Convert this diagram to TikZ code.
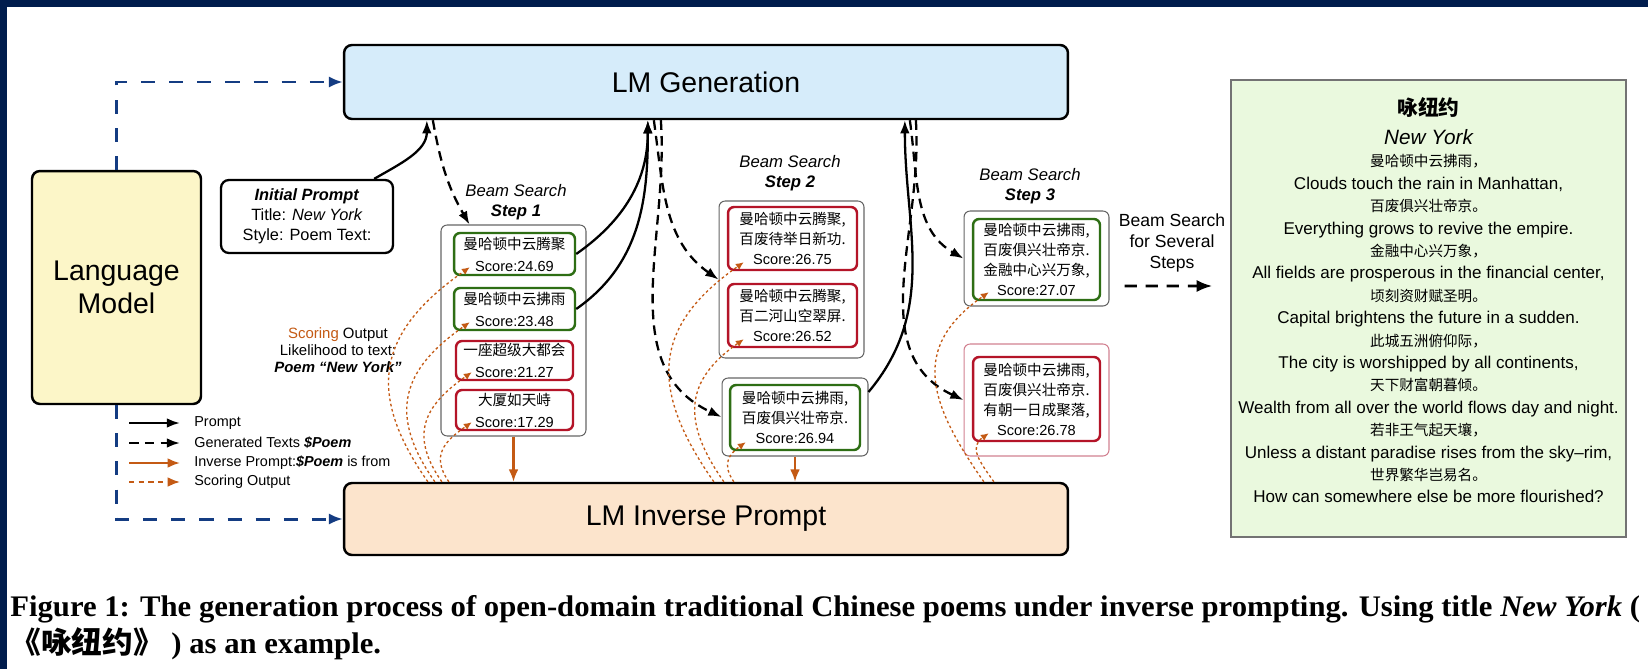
\documentclass[tikz,border=0pt]{standalone}
\usepackage{graphicx}
\usepackage{fontspec}
\setmainfont{Liberation Sans}
\newfontfamily\cjk{Noto Sans CJK SC}
\newfontfamily\capfont{Liberation Serif}
\usetikzlibrary{arrows.meta,calc}

\definecolor{navy}{RGB}{0,28,77}
\definecolor{genblue}{RGB}{214,236,250}
\definecolor{lmyellow}{RGB}{252,246,200}
\definecolor{invpeach}{RGB}{252,228,204}
\definecolor{poemgreen}{RGB}{234,249,222}
\definecolor{goodgreen}{RGB}{46,110,20}
\definecolor{badred}{RGB}{180,20,40}
\definecolor{rust}{RGB}{196,90,20}
\definecolor{dashblue}{RGB}{20,60,130}
\definecolor{pinkedge}{RGB}{210,130,145}

\newcommand\zh[1]{{\cjk #1}}

\begin{document}
\begin{tikzpicture}[x=0.02cm,y=0.02cm,
    boxsize/.style 2 args={minimum width=#1cm,minimum height=#2cm},
    bigbox/.style={draw=black,line width=1.4pt,rounded corners=4.5pt,inner sep=0pt,align=center,font=\fontsize{16.2}{18.8}\selectfont},
    initbox/.style={bigbox,fill=white,line width=1.3pt,font=\fontsize{9.3}{11.4}\selectfont},
    beambox/.style={draw=black!60,line width=0.6pt,rounded corners=3.5pt,inner sep=0pt},
    good/.style={draw=goodgreen,line width=1.4pt,rounded corners=3.5pt,inner sep=0pt,align=center,font=\fontsize{8.3}{11.4}\selectfont},
    bad/.style={good,draw=badred},
    steponetext/.style={font=\fontsize{8.3}{12.5}\selectfont},
    steplabel/.style={align=center,inner sep=0pt,font=\fontsize{9.5}{11.4}\selectfont},
    prompt/.style={-{Latex[length=7.5pt,width=5.5pt]},line width=1.3pt},
    gentext/.style={prompt,dash pattern=on 5.5pt off 3.5pt},
    inverse/.style={-{Latex[length=7pt,width=5.5pt]},rust,line width=1.2pt},
    scoring/.style={-{Latex[length=4.5pt,width=4pt]},rust,line width=0.75pt,dash pattern=on 1.5pt off 1.5pt},
    lmline/.style={-{Latex[length=8pt,width=6.5pt]},dashblue,line width=1.7pt,dash pattern=on 8pt off 8pt},
    legendtext/.style={anchor=west,inner sep=0pt,font=\fontsize{8.2}{10}\selectfont},
    poemtext/.style={align=center,inner sep=0pt,font=\fontsize{9.7}{12.75}\selectfont},
  ]
\useasboundingbox (0,0) rectangle (1648,-669);
\fill[white] (0,0) rectangle (1648,-669);
\fill[navy] (0,0) rectangle (1648,-7);
\fill[navy] (0,0) rectangle (7,-669);

% main blocks
\node[bigbox,fill=genblue,boxsize={14.48}{1.48}] (gen) at (706,-82) {LM Generation};
\node[bigbox,fill=invpeach,boxsize={14.48}{1.44}] (inv) at (706,-519) {LM Inverse Prompt};
\node[bigbox,fill=lmyellow,boxsize={3.38}{4.66}] (lm) at (116.5,-287.5) {Language\\Model};
\node[initbox,boxsize={3.44}{1.46}] (init) at (307,-216.5) {\textbf{\textit{Initial Prompt}}\\Title: \textit{New York}\\Style: Poem Text:};

% beam search step 1
\node[steplabel] (lab1) at (516,-202) {\textit{Beam Search}\\\textbf{\textit{Step 1}}};
\node[beambox,boxsize={2.9}{4.22}] (beam1) at (513.5,-330.5) {};
\node[good,steponetext,boxsize={2.42}{0.84}] (s1a) at (514.5,-254) {\zh{曼哈顿中云腾聚}\\Score:24.69};
\node[good,steponetext,boxsize={2.42}{0.84}] (s1b) at (514.5,-309) {\zh{曼哈顿中云拂雨}\\Score:23.48};
\node[bad,steponetext,boxsize={2.34}{0.78}] (s1c) at (514.5,-360.5) {\zh{一座超级大都会}\\Score:21.27};
\node[bad,steponetext,boxsize={2.34}{0.8}] (s1d) at (514.5,-410) {\zh{大厦如天峙}\\Score:17.29};

% beam search step 2
\node[steplabel] (lab2) at (790,-173) {\textit{Beam Search}\\\textbf{\textit{Step 2}}};
\node[beambox,boxsize={2.9}{3.14}] (beam2a) at (791.5,-279.5) {};
\node[bad,boxsize={2.58}{1.26}] (s2a) at (792.5,-238.5) {\zh{曼哈顿中云腾聚,}\\\zh{百废待举日新功.}\\Score:26.75};
\node[bad,boxsize={2.58}{1.26}] (s2b) at (792.5,-315.5) {\zh{曼哈顿中云腾聚,}\\\zh{百二河山空翠屏.}\\Score:26.52};
\node[beambox,boxsize={2.92}{1.56}] (beam2b) at (795,-417) {};
\node[good,boxsize={2.6}{1.3}] (s2c) at (795,-417.5) {\zh{曼哈顿中云拂雨,}\\\zh{百废俱兴壮帝京.}\\Score:26.94};

% beam search step 3
\node[steplabel] (lab3) at (1030,-186) {\textit{Beam Search}\\\textbf{\textit{Step 3}}};
\node[beambox,boxsize={2.9}{1.9}] (beam3a) at (1036.5,-258.5) {};
\node[good,boxsize={2.54}{1.62}] (s3a) at (1036.5,-259.5) {\zh{曼哈顿中云拂雨,}\\\zh{百废俱兴壮帝京.}\\\zh{金融中心兴万象,}\\Score:27.07};
\node[beambox,draw=pinkedge,boxsize={2.9}{2.24}] (beam3b) at (1036.5,-400) {};
\node[bad,boxsize={2.54}{1.68}] (s3b) at (1036.5,-399) {\zh{曼哈顿中云拂雨,}\\\zh{百废俱兴壮帝京.}\\\zh{有朝一日成聚落,}\\Score:26.78};

\node[align=center,inner sep=0pt,font=\fontsize{10}{12}\selectfont] (several) at (1172,-243) {Beam Search\\for Several\\Steps};

% the poem
\node[draw=black!55,line width=0.8pt,fill=poemgreen,inner sep=0pt,boxsize={7.9}{9.14}] (poem) at (1428.5,-308.5) {};
\node[poemtext] (poemlines) at ($(poem.center)+(0,8)$) {%
{\cjk\bfseries\fontsize{11.8}{14}\selectfont 咏纽约}\\[3.5pt]
{\fontsize{11.8}{14}\selectfont\itshape New York}\\
{\fontsize{8.3}{10}\selectfont\zh{曼哈顿中云拂雨，}}\\
Clouds touch the rain in Manhattan,\\
{\fontsize{8.3}{10}\selectfont\zh{百废俱兴壮帝京。}}\\
Everything grows to revive the empire.\\
{\fontsize{8.3}{10}\selectfont\zh{金融中心兴万象，}}\\
All fields are prosperous in the financial center,\\
{\fontsize{8.3}{10}\selectfont\zh{顷刻资财赋圣明。}}\\
Capital brightens the future in a sudden.\\
{\fontsize{8.3}{10}\selectfont\zh{此城五洲俯仰际，}}\\
The city is worshipped by all continents,\\
{\fontsize{8.3}{10}\selectfont\zh{天下财富朝暮倾。}}\\
Wealth from all over the world flows day and night.\\
{\fontsize{8.3}{10}\selectfont\zh{若非王气起天壤，}}\\
Unless a distant paradise rises from the sky--rim,\\
{\fontsize{8.3}{10}\selectfont\zh{世界繁华岂易名。}}\\
How can somewhere else be more flourished?};

% scoring label and legend
\node[align=center,inner sep=0pt,font=\fontsize{8.5}{9.7}\selectfont] (scorelab) at (338,-350) {{\color{rust}Scoring} Output\\Likelihood to text:\\\textbf{\textit{Poem ``New York''}}};
\node[legendtext] (lgprompt) at (194,-423) {Prompt};
\node[legendtext] (lggen) at (194,-443) {Generated Texts \textbf{\textit{\$Poem}}};
\node[legendtext] (lginv) at (194,-463) {Inverse Prompt:\textbf{\textit{\$Poem}} is from};
\node[legendtext] (lgscore) at (194,-482) {Scoring Output};
\draw[prompt] ($(lgprompt.west)+(-65,0)$) -- ($(lgprompt.west)+(-14,0)$);
\draw[gentext] ($(lggen.west)+(-65,0)$) -- ($(lggen.west)+(-14,0)$);
\draw[inverse] ($(lginv.west)+(-65,0)$) -- ($(lginv.west)+(-14,0)$);
\draw[scoring,line width=1.1pt,dash pattern=on 3pt off 2.5pt,-{Latex[length=7pt,width=5.5pt]}] ($(lgscore.west)+(-65,0)$) -- ($(lgscore.west)+(-14,0)$);

% language model feeds both blocks
\draw[lmline] (lm.north) |- (gen.west);
\draw[lmline] (lm.south) |- (inv.west);

% generation loop
\draw[prompt] ($(init.north east)+(-20,0)$) to[out=30,in=-90] ($(gen.south west)+(84,0)$);
\draw[gentext] ($(gen.south west)+(90,0)$) to[out=-80,in=120] ($(beam1.north west)+(29,0)$);
\draw[prompt] (s1a.east) to[out=35,in=-90] ($(gen.south west)+(305,0)$);
\draw[prompt] (s1b.east) to[out=35,in=-90] ($(gen.south west)+(305,0)$);
\draw[gentext] ($(gen.south west)+(311,0)$) to[out=-82,in=145] (beam2a.west);
\draw[gentext] ($(gen.south west)+(318,0)$) to[out=-86,in=155] (beam2b.west);
\draw[prompt] ($(beam2b.east)+(0,25)$) to[out=50,in=-90] ($(gen.south west)+(562,0)$);
\draw[gentext] ($(gen.south west)+(567,0)$) to[out=-82,in=150] (beam3a.west);
\draw[gentext] ($(gen.south west)+(573,0)$) to[out=-86,in=155] (beam3b.west);
\draw[gentext,line width=1.6pt,dash pattern=on 7pt off 5pt,-{Latex[length=9pt,width=7pt]}] ($(beam3a.east)+(15,-27.5)$) -- ($(poem.west)+(-18,22.5)$);

% inverse prompting
\draw[inverse] (beam1.south) -- (beam1.south |- inv.north);
\draw[inverse] (beam2b.south) -- (beam2b.south |- inv.north);
\foreach \src/\dx in {s1a/85,s1b/92,s1c/99,s1d/106,s2a/371,s2b/381,s2c/391,s3a/641,s3b/651}
  \draw[scoring] ($(inv.north west)+(\dx,0)$) to[out=125,in=215,looseness=1.3] ($(\src.south west)+(17,9)$);

% caption
\node[anchor=west,inner sep=0pt] (caption) at (10,-628) {\resizebox{32.6cm}{\height}{\capfont\bfseries\fontsize{17}{19.9}\selectfont
  \begin{tabular}{@{}l@{}}Figure 1: The generation process of open-domain traditional Chinese poems under inverse prompting. Using title \textit{New York} (\\
  {\cjk 《咏纽约》} ) as an example.\end{tabular}}};
\end{tikzpicture}
\end{document}
